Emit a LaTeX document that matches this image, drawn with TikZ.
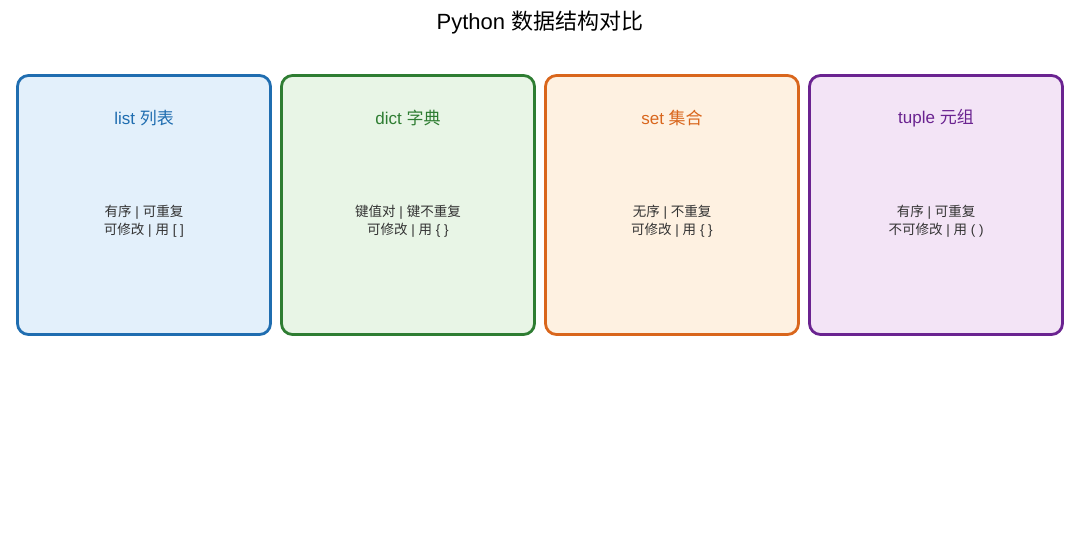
\documentclass[tikz,border=0pt]{standalone}
\usepackage{fontspec}
\setmainfont{Liberation Sans}
\newfontfamily\cjk{Noto Sans CJK SC}
\definecolor{bluestroke}{HTML}{1F6DB0}
\definecolor{bluefill}{HTML}{E3F0FB}
\definecolor{bluetext}{HTML}{1F6DB0}
\definecolor{greenstroke}{HTML}{2E7D32}
\definecolor{greenfill}{HTML}{E8F5E6}
\definecolor{greentext}{HTML}{2E7D32}
\definecolor{orangestroke}{HTML}{D9661C}
\definecolor{orangefill}{HTML}{FEF1E1}
\definecolor{orangetext}{HTML}{D9661C}
\definecolor{purplestroke}{HTML}{6A2390}
\definecolor{purplefill}{HTML}{F3E4F6}
\definecolor{purpletext}{HTML}{6A2390}
\definecolor{bodytext}{HTML}{333333}
\tikzset{
  card/.style={draw=#1stroke, fill=#1fill, line width=2.8pt, rounded corners=11pt,
    minimum width=253pt, minimum height=259pt, inner sep=0pt},
  cardtitle/.style={text=#1text, font=\fontsize{17}{20}\selectfont},
  cardbody/.style={text=bodytext, font=\fontsize{13.5}{17.5}\selectfont, align=center},
}
\begin{document}
\begin{tikzpicture}[x=1pt,y=-1pt]
\useasboundingbox (0,0) rectangle (1080,535);
\node (title) at (540,23) {\fontsize{22}{26}\selectfont Python \cjk 数据结构对比};
% cards
\node[card=blue] (c1) at (144,205) {};
\node[card=green] (c2) at (408,205) {};
\node[card=orange] (c3) at (672,205) {};
\node[card=purple] (c4) at (936,205) {};
% titles
\node[cardtitle=blue] (t1) at (144,118) {list {\cjk 列表}};
\node[cardtitle=green] (t2) at (408,118) {dict {\cjk 字典}};
\node[cardtitle=orange] (t3) at (672,118) {set {\cjk 集合}};
\node[cardtitle=purple] (t4) at (936,118) {tuple {\cjk 元组}};
% bodies
\node[cardbody] (b1) at (144,221) {{\cjk 有序} | {\cjk 可重复}\\{\cjk 可修改} | {\cjk 用} [ ]};
\node[cardbody] (b2) at (408,221) {{\cjk 键值对} | {\cjk 键不重复}\\{\cjk 可修改} | {\cjk 用} \{ \}};
\node[cardbody] (b3) at (672,221) {{\cjk 无序} | {\cjk 不重复}\\{\cjk 可修改} | {\cjk 用} \{ \}};
\node[cardbody] (b4) at (936,221) {{\cjk 有序} | {\cjk 可重复}\\{\cjk 不可修改} | {\cjk 用} ( )};
\end{tikzpicture}
\end{document}
